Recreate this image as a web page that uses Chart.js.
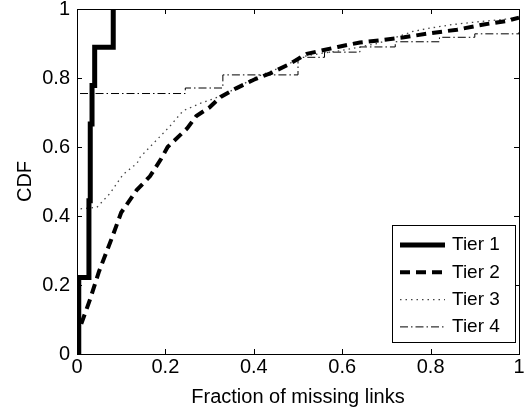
<!DOCTYPE html>
<html>
<head>
<meta charset="utf-8">
<script src="https://cdn.jsdelivr.net/npm/chart.js@4.4.1/dist/chart.umd.min.js"></script>
<style>
  html, body { margin: 0; padding: 0; background: #fff; }
  #wrap { width: 524px; height: 409px; }
</style>
</head>
<body>
<div id="wrap"><canvas id="cdfChart" width="524" height="409"></canvas></div>
<script>
// valores (CDF da fracao de links perdidos)
const nomesSeries = ['Tier 1', 'Tier 2', 'Tier 3', 'Tier 4'];

const tier1X = [0, 0.004, 0.027, 0.03, 0.034, 0.04, 0.082];
const tier1Y = [0, 0.222, 0.444, 0.667, 0.778, 0.889, 1.0];

const tier2X = [0, 0.002, 0.009, 0.03, 0.05, 0.08, 0.10, 0.135, 0.165, 0.19, 0.205, 0.25, 0.27, 0.30, 0.325, 0.36, 0.40, 0.44, 0.48, 0.52, 0.59, 0.64, 0.69, 0.74, 0.80, 0.86, 0.92, 0.97, 1.0];
const tier2Y = [0, 0.08, 0.085, 0.16, 0.24, 0.34, 0.41, 0.475, 0.515, 0.565, 0.60, 0.655, 0.69, 0.715, 0.745, 0.77, 0.795, 0.815, 0.84, 0.87, 0.89, 0.903, 0.91, 0.918, 0.93, 0.94, 0.955, 0.965, 0.975];

const tier3X = [0, 0, 0.045, 0.075, 0.104, 0.136, 0.143, 0.18, 0.21, 0.24, 0.28, 0.32, 0.36, 0.40, 0.46, 0.52, 0.60, 0.68, 0.76, 0.80, 0.85, 0.90, 0.95, 1.0];
const tier3Y = [0, 0.42, 0.425, 0.466, 0.52, 0.553, 0.571, 0.62, 0.66, 0.705, 0.727, 0.745, 0.77, 0.80, 0.83, 0.865, 0.88, 0.90, 0.935, 0.945, 0.955, 0.962, 0.968, 0.975];

const tier4X = [0, 0, 0.245, 0.33, 0.5, 0.56, 0.64, 0.72, 0.82, 0.9, 1.0];
const tier4Y = [0, 0.755, 0.771, 0.809, 0.86, 0.875, 0.89, 0.905, 0.918, 0.928, 0.933];

const ticksX = [0, 0.2, 0.4, 0.6, 0.8, 1];
const ticksY = [0, 0.2, 0.4, 0.6, 0.8, 1];
const rotulosTicks = ['0', '0.2', '0.4', '0.6', '0.8', '1'];

function pontos(xs, ys) {
    return xs.map((x, i) => ({ x: x, y: ys[i] }));
}

const fonte = 'Liberation Sans, Arial, Helvetica, sans-serif';

// caixa, ticks para dentro e legenda no estilo do matlab
const molduraPlugin = {
    id: 'moldura',
    afterDraw(chart) {
        const ctx = chart.ctx;
        const a = chart.chartArea;
        const sx = chart.scales.x;
        const sy = chart.scales.y;
        ctx.save();
        ctx.strokeStyle = '#000';
        ctx.lineWidth = 1;
        ctx.setLineDash([]);
        ctx.beginPath();
        ticksX.forEach(v => {
            const px = Math.round(sx.getPixelForValue(v)) + 0.5;
            ctx.moveTo(px, a.bottom); ctx.lineTo(px, a.bottom - 5);
            ctx.moveTo(px, a.top); ctx.lineTo(px, a.top + 5);
        });
        ticksY.forEach(v => {
            const py = Math.round(sy.getPixelForValue(v)) + 0.5;
            ctx.moveTo(a.left, py); ctx.lineTo(a.left + 5, py);
            ctx.moveTo(a.right, py); ctx.lineTo(a.right - 5, py);
        });
        ctx.stroke();
        ctx.strokeRect(Math.round(a.left) + 0.5, Math.round(a.top) + 0.5,
            Math.round(a.right - a.left), Math.round(a.bottom - a.top));

        // legenda
        const lx = 392, ly = 225, lw = 123, lh = 117;
        ctx.fillStyle = '#fff';
        ctx.fillRect(lx, ly, lw, lh);
        ctx.strokeRect(lx + 0.5, ly + 0.5, lw, lh);
        ctx.font = '19px ' + fonte;
        ctx.textBaseline = 'middle';
        ctx.textAlign = 'left';
        chart.data.datasets.forEach((ds, i) => {
            const yy = ly + 20 + i * 27.3;
            ctx.strokeStyle = ds.borderColor;
            ctx.lineWidth = ds.borderWidth;
            ctx.setLineDash(ds.borderDash || []);
            ctx.beginPath();
            ctx.moveTo(400, yy);
            ctx.lineTo(445, yy);
            ctx.stroke();
            ctx.fillStyle = '#000';
            ctx.fillText(ds.label, 452, yy);
        });
        ctx.restore();
    }
};

const ctx = document.getElementById('cdfChart').getContext('2d');
const chart = new Chart(ctx, {
    type: 'line',
    data: {
        datasets: [
            {
                label: nomesSeries[0],
                data: pontos(tier1X, tier1Y),
                borderColor: '#000',
                borderWidth: 5,
                stepped: 'before',
                pointRadius: 0,
                order: 1
            },
            {
                label: nomesSeries[1],
                data: pontos(tier2X, tier2Y),
                borderColor: '#000',
                borderWidth: 4,
                borderDash: [10, 6],
                pointRadius: 0,
                order: 2
            },
            {
                label: nomesSeries[2],
                data: pontos(tier3X, tier3Y),
                borderColor: '#444',
                borderWidth: 1.3,
                borderDash: [1.5, 4],
                pointRadius: 0,
                order: 3
            },
            {
                label: nomesSeries[3],
                data: pontos(tier4X, tier4Y),
                borderColor: '#000',
                borderWidth: 1,
                borderDash: [8, 3, 1.5, 3],
                stepped: 'before',
                pointRadius: 0,
                order: 4
            }
        ]
    },
    options: {
        responsive: false,
        animation: false,
        layout: { padding: { top: 9, right: 5, left: 0, bottom: 0 } },
        plugins: {
            legend: { display: false },
            tooltip: { enabled: false }
        },
        scales: {
            x: {
                type: 'linear',
                min: 0,
                max: 1,
                afterFit: s => { s.height = 55; s.paddingRight = 0; },
                afterBuildTicks: s => { s.ticks = ticksX.map(v => ({ value: v })); },
                grid: { display: false, drawTicks: false },
                border: { display: false },
                ticks: {
                    padding: 1,
                    color: '#000',
                    font: { family: fonte, size: 20 },
                    maxRotation: 0,
                    callback: (v, i) => rotulosTicks[i]
                },
                title: {
                    display: true,
                    text: 'Fraction of missing links',
                    color: '#000',
                    font: { family: fonte, size: 20 },
                    padding: { top: 4, bottom: 0 }
                }
            },
            y: {
                type: 'linear',
                min: 0,
                max: 1,
                afterFit: s => { s.width = 77; s.paddingTop = 0; s.paddingBottom = 0; },
                afterBuildTicks: s => { s.ticks = ticksY.map(v => ({ value: v })); },
                grid: { display: false, drawTicks: false },
                border: { display: false },
                ticks: {
                    padding: 7,
                    color: '#000',
                    font: { family: fonte, size: 20 },
                    callback: (v, i) => rotulosTicks[i]
                },
                title: {
                    display: true,
                    text: 'CDF',
                    color: '#000',
                    font: { family: fonte, size: 20 },
                    padding: { top: 13, bottom: 0 }
                }
            }
        }
    },
    plugins: [molduraPlugin]
});
</script>
</body>
</html>
